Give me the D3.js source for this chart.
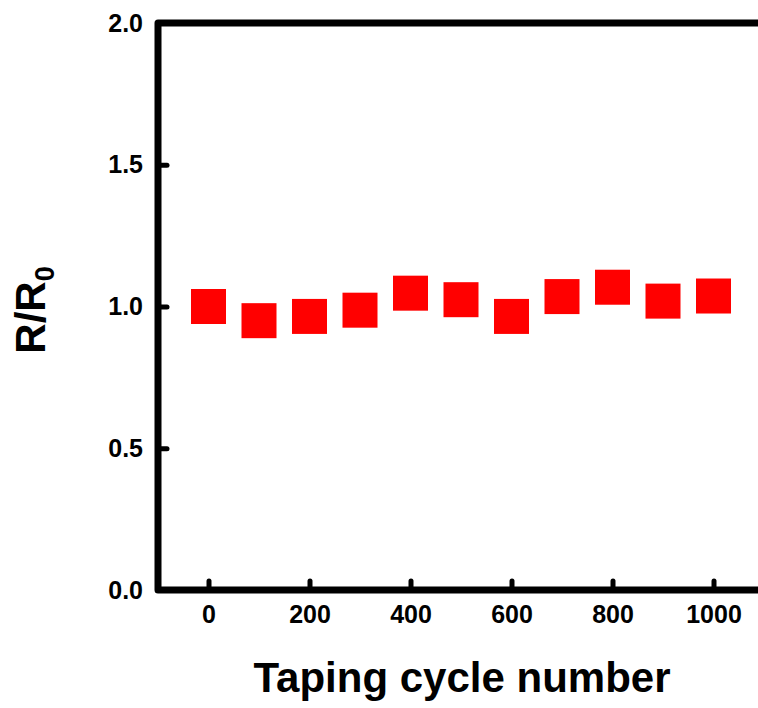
<!DOCTYPE html>
<html>
<head>
<meta charset="utf-8">
<script src="https://cdn.jsdelivr.net/npm/d3@7"></script>
<style>
  body { margin: 0; background: #fff; }
  svg { display: block; font-family: "Liberation Sans", Arial, sans-serif; font-weight: bold; }
</style>
</head>
<body>
<div id="chart"></div>
<script>
// data
const cycles = [0, 100, 200, 300, 400, 500, 600, 700, 800, 900, 1000];
const ratio = [1.0, 0.95, 0.965, 0.987, 1.047, 1.024, 0.965, 1.035, 1.068, 1.019, 1.037];
const xTicks = [0, 200, 400, 600, 800, 1000];
const yTicks = [0.0, 0.5, 1.0, 1.5, 2.0];

const width = 758, height = 708;
const plotLeft = 158, plotRight = 764, plotTop = 23, plotBottom = 590;

const svg = d3.select("#chart").append("svg")
    .attr("width", width)
    .attr("height", height);

const x = d3.scaleLinear().domain([-100, 1100]).range([plotLeft, plotRight]);
const y = d3.scaleLinear().domain([0, 2]).range([plotBottom, plotTop]);

// x axis, ticks pointing inward
const xAxis = svg.append("g")
    .attr("transform", `translate(0,${plotBottom})`)
    .call(d3.axisBottom(x).tickValues(xTicks).tickSizeInner(-9).tickSizeOuter(0).tickPadding(15).tickFormat(d3.format("d")));

const yAxis = svg.append("g")
    .attr("transform", `translate(${plotLeft},0)`)
    .call(d3.axisLeft(y).tickValues(yTicks).tickSizeInner(-9).tickSizeOuter(0).tickPadding(15).tickFormat(d3.format(".1f")));

[xAxis, yAxis].forEach(g => {
    g.select(".domain").remove();
    g.selectAll(".tick line")
        .attr("stroke", "#000")
        .attr("stroke-width", 5)
        .attr("stroke-linecap", "round");
    g.selectAll(".tick text")
        .attr("fill", "#000")
        .style("font-size", "25px")
        .style("font-weight", "bold");
});

// frame
svg.append("rect")
    .attr("x", plotLeft).attr("y", plotTop)
    .attr("width", plotRight - plotLeft).attr("height", plotBottom - plotTop)
    .attr("fill", "none")
    .attr("stroke", "#000")
    .attr("stroke-width", 7)
    .attr("stroke-linejoin", "round");

// square markers
const s = 35;
svg.append("g").selectAll("rect")
    .data(cycles.map((c, i) => ({ c, v: ratio[i] })))
    .join("rect")
    .attr("x", d => x(d.c) - s / 2)
    .attr("y", d => y(d.v) - s / 2)
    .attr("width", s)
    .attr("height", s)
    .attr("fill", "#ff0000");

// axis titles
svg.append("text")
    .attr("x", 462)
    .attr("y", 692)
    .attr("text-anchor", "middle")
    .style("font-size", "42px")
    .text("Taping cycle number");

const yt = svg.append("text")
    .attr("transform", "translate(45,310) rotate(-90)")
    .attr("text-anchor", "middle")
    .style("font-size", "42px");
yt.append("tspan").text("R/R");
yt.append("tspan").attr("dy", 9).style("font-size", "27px").text("0");
</script>
</body>
</html>
